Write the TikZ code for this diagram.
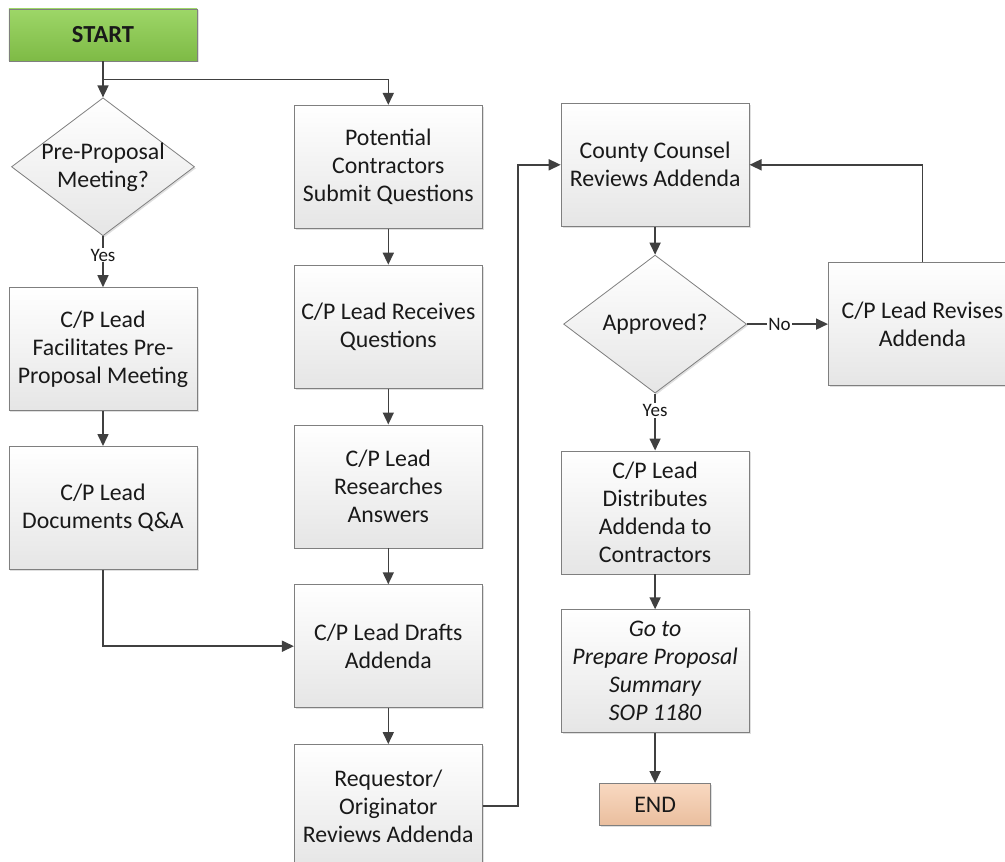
\documentclass[tikz,border=0pt]{standalone}
\usepackage{fontspec}
\setmainfont{Carlito}
\usepackage{tikz}
\usetikzlibrary{calc, arrows.meta, positioning, shapes.geometric, shadows}

\definecolor{linegray}{HTML}{404040}
\definecolor{boxgray}{HTML}{7F7F7F}
\definecolor{startgreen}{HTML}{8CCF4D}
\definecolor{endorange}{HTML}{F6C8A6}

\begin{document}
\begin{tikzpicture}[>={Triangle[length=12pt, width=11pt]}, node distance=36pt,
  every node/.style={font=\fontsize{23.8pt}{28pt}\selectfont, align=center, text=black!90},
  shade/.style={draw=boxgray, line width=0.8pt, top color=white, bottom color=black!10,
    drop shadow={shadow xshift=1.5pt, shadow yshift=-1.5pt, opacity=0.25}},
  process/.style={shade, rectangle, minimum width=188pt, minimum height=123pt, inner sep=2pt},
  decision/.style={shade, diamond, minimum width=183pt, minimum height=138pt, inner sep=-12pt},
  terminal/.style={draw=boxgray, line width=0.8pt, rectangle,
    drop shadow={shadow xshift=1.5pt, shadow yshift=-1.5pt, opacity=0.25}},
  flow/.style={->, draw=linegray, line width=1.6pt},
  answer/.style={fill=white, inner sep=1pt, font=\fontsize{19pt}{22pt}\selectfont}]
\useasboundingbox (-103pt,35pt) rectangle (902pt,-827pt);

% Nodes
\node[terminal, top color=startgreen!85!white, bottom color=startgreen!90!black,
  minimum width=188pt, minimum height=52pt, font=\fontsize{24.5pt}{28pt}\selectfont\bfseries] (start) {START};
\node[decision, below=36pt of start] (premeet) {Pre-Proposal\\Meeting?};
\node[process, below=51pt of premeet] (facil) {C/P Lead\\Facilitates Pre-\\Proposal Meeting};
\node[process, below=35pt of facil] (docqa) {C/P Lead\\Documents Q\&A};

\node[process, right=99pt of premeet] (submit) {Potential\\Contractors\\Submit Questions};
\node[process, below=of submit] (receive) {C/P Lead Receives\\Questions};
\node[process, below=of receive] (research) {C/P Lead\\Researches\\Answers};
\node[process, below=of research] (drafts) {C/P Lead Drafts\\Addenda};
\node[process, below=of drafts] (origin) {Requestor/\\Originator\\Reviews Addenda};

\node[process, right=78pt of submit, yshift=2pt] (counsel) {County Counsel\\Reviews Addenda};
\node[decision, below=28pt of counsel] (approved) {Approved?};
\node[process, right=81pt of approved] (revise) {C/P Lead Revises\\Addenda};
\node[process, below=57pt of approved] (distrib) {C/P Lead\\Distributes\\Addenda to\\Contractors};
\node[process, below=35pt of distrib, font=\fontsize{23.8pt}{28pt}\selectfont\itshape] (goto) {Go to\\Prepare Proposal\\Summary\\SOP 1180};
\node[terminal, below=50pt of goto, top color=endorange!70!white, bottom color=endorange!95!black,
  minimum width=111pt, minimum height=42pt] (finish) {END};

\coordinate (split) at ($(start.south)+(0,-18pt)$);

% Edges
\draw[flow] (start) -- (premeet);
\draw[flow] (split) -| (submit);
\draw[flow] (premeet) -- node[answer, pos=0.37]{Yes} (facil);
\draw[flow] (facil) -- (docqa);
\draw[flow] (docqa) |- (drafts);
\draw[flow] (submit) -- (receive);
\draw[flow] (receive) -- (research);
\draw[flow] (research) -- (drafts);
\draw[flow] (drafts) -- (origin);
\draw[flow] (origin.east) -- ++(35pt,0) |- (counsel);
\draw[flow] (counsel) -- (approved);
\draw[flow] (approved) -- node[answer, pos=0.4]{No} (revise);
\draw[flow] (revise.north) |- (counsel.east);
\draw[flow] (approved) -- node[answer, pos=0.3]{Yes} (distrib);
\draw[flow] (distrib) -- (goto);
\draw[flow] (goto) -- (finish);
\end{tikzpicture}
\end{document}
